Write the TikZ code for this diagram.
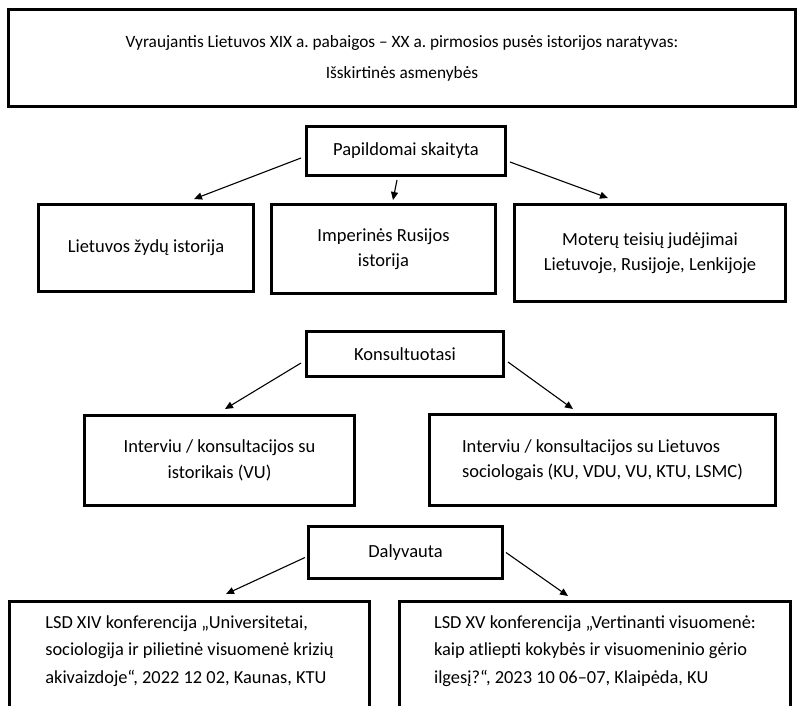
\documentclass[tikz,border=0pt]{standalone}
\usepackage{fontspec}
\setmainfont{Carlito}
\usetikzlibrary{arrows.meta,calc}
\frenchspacing
\begin{document}
\begin{tikzpicture}[x=1pt,y=-1pt,
  box/.style={draw,line width=3pt,inner sep=0pt,align=center},
  lbox/.style={box,align=left},
  arr/.style={line width=1.1pt,-{Triangle[length=8pt,width=7pt]}}]
\fontsize{18.5}{25.5}\selectfont
\useasboundingbox (0,0) rectangle (799,705);
\clip (0,0) rectangle (799,705);
\node[box,line width=3.5pt,minimum width=787pt,minimum height=97pt,font=\fontsize{17.3}{31}\selectfont] (narr) at (402,58)
  {Vyraujantis Lietuvos XIX a. pabaigos -- XX a. pirmosios pusės istorijos naratyvas:\\Išskirtinės asmenybės};
\node[box,minimum width=199pt,minimum height=49pt] (pap) at (406,151) {Papildomai skaityta};
\node[box,minimum width=215pt,minimum height=87pt] (zyd) at (146,248) {Lietuvos žydų istorija};
\node[box,minimum width=224pt,minimum height=89pt] (imp) at (383.5,249) {Imperinės Rusijos\\istorija};
\node[box,minimum width=271pt,minimum height=97pt] (mot) at (650,253) {Moterų teisių judėjimai\\Lietuvoje, Rusijoje, Lenkijoje};
\node[box,minimum width=197pt,minimum height=45pt] (kon) at (405,354) {Konsultuotasi};
\node[box,minimum width=270pt,minimum height=90pt] (ivh) at (219.5,460.5) {Interviu / konsultacijos su\\istorikais (VU)};
\node[lbox,minimum width=346pt,minimum height=91pt] (ivs) at (602.5,460) {Interviu / konsultacijos su Lietuvos\\sociologais (KU, VDU, VU, KTU, LSMC)};
\node[box,minimum width=194pt,minimum height=52pt] (dal) at (405.5,552.5) {Dalyvauta};
\node[lbox,minimum width=360pt,minimum height=127pt,text depth=31pt,font=\fontsize{18.4}{27.5}\selectfont] (lsdA) at (189.5,665)
  {LSD XIV konferencija „Universitetai,\\sociologija ir pilietinė visuomenė krizių\\akivaizdoje“, 2022 12 02, Kaunas, KTU};
\node[lbox,minimum width=391pt,minimum height=127pt,text depth=31pt,font=\fontsize{18.4}{27.5}\selectfont] (lsdB) at (595,665)
  {LSD XV konferencija „Vertinanti visuomenė:\\kaip atliepti kokybės ir visuomeninio gėrio\\ilgesį?“, 2023 10 06--07, Klaipėda, KU};
% arrows
\draw[arr] ($(pap.west)+(-4,7)$) -- ($(zyd.north)+(48,-4)$);
\draw[arr] ($(pap.south)+(-9,3)$) -- ($(imp.north)+(9.5,-3)$);
\draw[arr] ($(pap.east)+(3,11)$) -- ($(mot.north)+(-42,-5)$);
\draw[arr] ($(kon.west)+(-4,9)$) -- ($(ivh.north)+(5.5,-5)$);
\draw[arr] ($(kon.east)+(3,8)$) -- ($(ivs.north)+(-29.5,-4)$);
\draw[arr] ($(dal.west)+(-2,5)$) -- ($(lsdA.north)+(36.5,-6)$);
\draw[arr] ($(dal.east)+(2,0)$) -- ($(lsdB.north)+(-27,-4)$);
\end{tikzpicture}
\end{document}
